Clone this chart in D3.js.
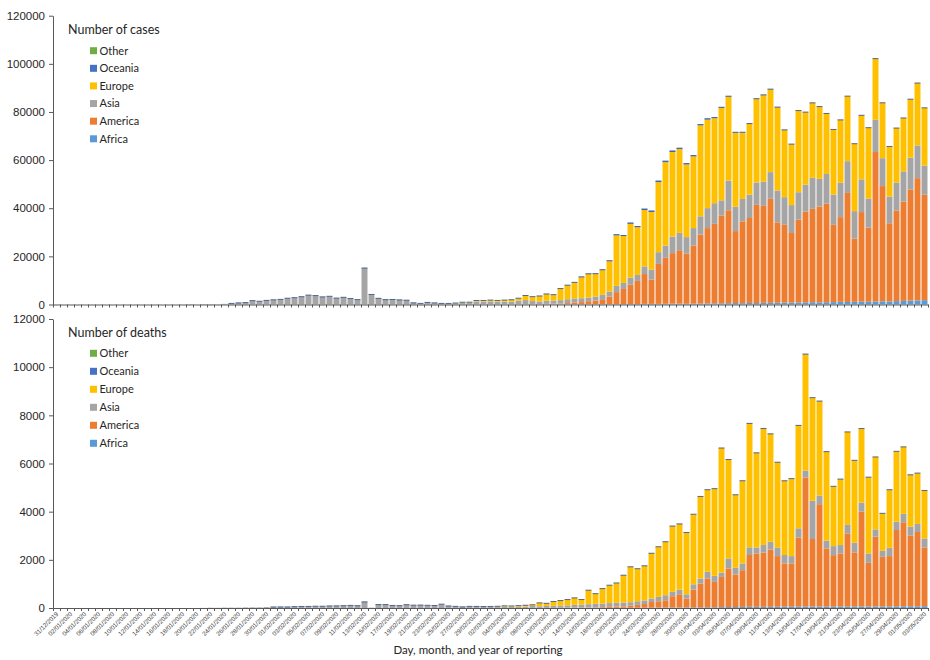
<!DOCTYPE html>
<html>
<head>
<meta charset="utf-8">
<script src="https://cdn.jsdelivr.net/npm/d3@7/dist/d3.min.js"></script>
<style>
  html, body { margin: 0; padding: 0; background: #fff; }
  svg { display: block; font-family: Lato, "Open Sans", sans-serif; }
</style>
</head>
<body>
<svg id="chart" width="930" height="660"></svg>
<script>
// Reporting days: 31/12/2019 to 03/05/2020 (one bar per day)
const firstDay = new Date(Date.UTC(2019, 11, 31));
const lastDay = new Date(Date.UTC(2020, 4, 3));
const days = d3.utcDay.range(firstDay, d3.utcDay.offset(lastDay, 1)).map(d3.utcFormat("%d/%m/%Y"));

// Stack order, bottom to top
const regions = ["Africa", "America", "Asia", "Europe", "Oceania", "Other"];
const regionColors = ["#5B9BD5", "#ED7D31", "#A5A5A5", "#FFC000", "#4472C4", "#70AD47"];

const casesTicks = [0, 20000, 40000, 60000, 80000, 100000, 120000];
const deathsTicks = [0, 2000, 4000, 6000, 8000, 10000, 12000];

// ---- Daily number of cases ----
const casesAfrica = [
  0,0,0,0,0,0,0,0,0,0, 0,0,0,0,0,0,0,0,0,0, 0,0,0,0,0,0,0,0,0,0, 0,0,0,0,0,0,0,0,0,0,
  0,0,0,0,0,1,0,0,0,0, 0,0,0,0,0,0,0,0,0,1, 0,1,1,2,3,5,10,12,8,20,
  30,25,30,45,50,60,80,100,100,120, 150,160,180,200,250,250,250,300,350,350,
  300,350,450,450,500,500,550,600,550,650, 600,700,700,750,800,800,850,900,950,900,
  950,1000,1100,1050,1100,1200,1150,1250,1300,1250, 1400,1500,1600,1700,1800];
const casesAmerica = [
  0,0,0,0,0,0,0,0,0,0, 0,0,0,0,0,0,0,0,0,0, 0,1,0,0,1,1,3,0,0,0, 0,1,1,1,3,0,0,0,0,1,
  0,0,1,0,1,0,0,0,0,0, 0,0,1,0,0,0,14,1,1,1, 15,20,25,30,30,60,90,120,130,160,
  230,330,380,550,800,950,1300,1500,1800,3200, 5000,6300,8050,9600,12400,10100,16600,19100,21000,22200,
  20800,24100,28600,31300,33000,36400,38600,29900,34000,35300, 40800,40300,43200,33400,32300,28900,34400,37700,38800,39800,
  41000,32100,35200,45300,26300,37200,30800,62100,47900,32500, 37700,41300,46200,50800,43800];
const casesAsia = [
  27,0,0,17,0,15,0,0,0,0, 0,0,0,1,0,0,1,4,17,136, 20,152,142,98,262,445,675,790,1600,1350,
  1700,1950,2110,2600,2840,3250,3900,3710,3160,3400, 2670,2990,2490,2030,15150,4170,2560,2030,2080,1910,
  1790,700,450,850,600,380,330,480,720,740, 1250,1200,1250,1100,1150,1100,1500,1700,1300,1100,
  1300,1300,1400,1600,1700,1600,1500,1700,2100,2100, 2600,2500,3000,2500,3200,4200,4900,5100,6900,7200,
  6900,7300,7600,8300,8600,6400,12300,10100,9300,9700, 9300,10100,11100,13200,11500,11600,11400,11200,12900,11500,
  12300,12600,14300,13200,11400,13600,12100,13400,11600,11100, 11600,12500,13200,13600,12100];
const casesEurope = [
  0,0,0,0,0,0,0,0,0,0, 0,0,0,0,0,0,0,0,0,0, 0,0,0,0,3,0,0,1,4,0, 2,5,3,2,0,1,0,1,3,4,
  1,0,9,1,1,0,2,0,1,0, 0,0,4,17,60,70,100,130,230,220, 400,450,550,550,650,800,1000,1900,1800,2250,
  2800,2400,4800,5800,6600,8800,9800,9400,10300,12600, 21000,19500,22300,19800,23400,23900,29100,34600,35100,34800,
  30200,29800,37800,36800,35300,38400,34900,30800,27600,29400, 34700,35900,34400,34600,27900,25300,33900,30100,31100,30000,
  25100,27000,26100,27000,28000,26600,29400,25400,23000,20800, 22600,22200,24300,25900,24000];
const casesOceania = [
  0,0,0,0,0,0,0,0,0,0, 0,0,0,0,0,0,0,0,0,0, 0,0,0,0,0,3,1,1,0,2, 2,0,3,1,0,1,0,0,0,0,
  0,0,0,0,0,0,0,0,0,0, 0,0,0,0,0,0,0,0,0,0, 0,2,3,4,10,10,5,5,15,15,
  20,30,25,40,50,70,90,120,140,160, 260,200,350,300,420,420,450,480,450,400,
  350,330,300,320,280,250,200,150,130,120, 110,100,90,80,60,50,45,40,40,35,
  30,25,20,20,15,20,15,15,15,10, 12,10,15,20,15];
const casesOther = [
  0,0,0,0,0,0,0,0,0,0, 0,0,0,0,0,0,0,0,0,0, 0,0,0,0,0,0,0,0,0,0, 0,0,0,0,0,0,0,10,41,3,
  6,65,0,39,44,0,67,70,99,88, 79,13,0,0,57,0,0,14,0,0, 0,0,0,0,0,0,0,0,0,0,
  0,0,0,0,0,0,0,0,0,0, 0,0,0,0,0,0,0,0,0,0, 0,0,0,0,0,0,0,0,0,0,
  0,0,0,0,0,0,0,0,0,0, 0,0,0,0,0,0,0,0,0,0, 0,0,0,0,0];

// ---- Daily number of deaths ----
const deathsAfrica = [
  0,0,0,0,0,0,0,0,0,0, 0,0,0,0,0,0,0,0,0,0, 0,0,0,0,0,0,0,0,0,0, 0,0,0,0,0,0,0,0,0,0,
  0,0,0,0,0,0,0,0,0,0, 0,0,0,0,0,0,0,0,0,0, 0,0,0,0,0,0,0,0,1,0,
  1,1,2,1,3,4,3,5,6,5, 5,10,10,10,15,15,20,20,20,20,
  25,25,25,30,30,35,40,40,45,50, 50,50,50,55,55,55,60,60,60,60,
  60,60,60,60,60,60,60,60,60,60, 65,70,70,70,75];
const deathsAmerica = [
  0,0,0,0,0,0,0,0,0,0, 0,0,0,0,0,0,0,0,0,0, 0,0,0,0,0,0,0,0,0,0, 0,0,0,0,0,0,0,0,0,0,
  0,0,0,0,0,0,0,0,0,0, 0,0,0,0,0,0,0,0,0,0, 1,1,1,4,2,3,2,4,3,3,
  4,5,8,10,12,13,15,20,30,40, 50,60,90,120,150,235,260,300,470,550,
  365,740,990,1195,1055,1255,1600,1350,1525,2150, 2215,2245,2380,2100,1795,1795,2860,5360,2805,4250,
  2415,2135,2205,3040,2250,3940,1815,2900,2065,2095, 3175,3490,2930,3085,2440];
const deathsAsia = [
  0,0,0,0,0,0,0,0,0,0, 0,1,0,0,0,0,0,1,0,0, 0,3,11,8,16,15,15,24,26,26,
  38,43,46,45,57,64,66,73,73,86, 89,97,108,97,254,13,143,142,106,98,
  138,117,121,111,103,156,82,65,46,62, 61,52,56,48,58,52,52,55,80,70,
  80,85,95,100,115,125,140,150,150,160, 160,160,140,150,150,140,180,210,180,195,
  180,220,210,280,250,180,420,280,280,320, 250,320,320,360,350,305,390,290,1585,360,
  320,375,350,350,400,375,390,305,250,345, 345,350,375,335,375];
const deathsEurope = [
  0,0,0,0,0,0,0,0,0,0, 0,0,0,0,0,0,0,0,0,0, 0,0,0,0,0,0,0,0,0,0, 0,0,0,0,0,0,0,0,0,0,
  0,0,0,0,0,1,0,0,0,0, 0,0,1,1,1,3,4,3,2,5, 4,8,6,20,30,30,45,55,50,140,
  110,180,205,240,290,210,580,420,620,740, 825,1130,1470,1350,1435,1880,2080,2220,2730,2725,
  2560,2905,3405,3405,3615,5170,4100,3030,3430,5140, 3925,4835,4480,3535,3080,3215,4270,4830,4280,3920,
  3695,2480,2735,3860,3420,3075,3165,3005,1555,2410, 2920,2780,2155,2110,1990];
const deathsOceania = [
  0,0,0,0,0,0,0,0,0,0, 0,0,0,0,0,0,0,0,0,0, 0,0,0,0,0,0,0,0,0,0, 0,0,0,0,0,0,0,0,0,0,
  0,0,0,0,0,0,0,0,0,0, 0,0,0,0,0,0,0,0,0,0, 0,0,1,0,0,0,0,0,0,0,
  0,0,0,0,0,0,1,0,0,1, 0,1,1,1,2,3,3,2,3,2,
  4,3,2,2,5,4,5,3,4,5, 3,4,2,3,3,2,2,4,3,2,
  3,2,3,1,2,1,2,2,1,1, 1,0,1,1,0];
const deathsOther = [
  0,0,0,0,0,0,0,0,0,0, 0,0,0,0,0,0,0,0,0,0, 0,0,0,0,0,0,0,0,0,0, 0,0,0,0,0,0,0,0,0,0,
  0,0,0,0,0,0,0,0,0,0, 0,2,0,0,1,0,0,1,0,0, 2,0,0,0,0,0,0,1,0,0,
  0,0,0,0,0,0,0,0,0,0, 0,0,0,0,0,0,0,0,0,0, 0,0,0,0,0,0,0,0,0,0,
  0,0,0,0,0,0,0,0,0,0, 0,0,0,0,0,0,0,0,0,0, 0,0,0,0,0];

const xTitle = "Day, month, and year of reporting";

// ---- Drawing ----
const svg = d3.select("#chart");
const plotLeft = 53, plotRight = 928;
const axisColor = "#595959";
const textColor = "#262626";

const x = d3.scaleBand().domain(days).range([plotLeft, plotRight])
  .paddingInner(0.15).paddingOuter(0.075);
const xEdge = d3.scaleLinear().domain([0, days.length]).range([plotLeft, plotRight]);

const panels = [
  { title: "Number of cases", ticks: casesTicks, yBase: 304.5, yTop: 15.7,
    series: [casesAfrica, casesAmerica, casesAsia, casesEurope, casesOceania, casesOther],
    titleY: 33.5, legendY: 50.7, legendStep: 17.62, labels: false },
  { title: "Number of deaths", ticks: deathsTicks, yBase: 608, yTop: 319,
    series: [deathsAfrica, deathsAmerica, deathsAsia, deathsEurope, deathsOceania, deathsOther],
    titleY: 337, legendY: 353.3, legendStep: 18, labels: true }
];

panels.forEach(p => {
  const rows = days.map((day, i) => {
    const r = { day };
    regions.forEach((k, j) => { r[k] = p.series[j][i]; });
    return r;
  });
  const stacked = d3.stack().keys(regions)(rows);
  const y = d3.scaleLinear().domain([0, p.ticks[p.ticks.length - 1]]).range([p.yBase, p.yTop]);

  const g = svg.append("g");

  // stacked bars
  g.selectAll("g.layer").data(stacked).join("g")
    .attr("class", "layer")
    .attr("fill", (d, i) => regionColors[i])
    .selectAll("rect").data(d => d).join("rect")
      .attr("x", d => x(d.data.day))
      .attr("width", x.bandwidth())
      .attr("y", d => y(d[1]))
      .attr("height", d => Math.max(0, y(d[0]) - y(d[1])));

  // Oceania series outline: thin edge on top of each column
  const oceania = stacked[regions.indexOf("Oceania")];
  g.append("path")
    .attr("fill", "none")
    .attr("stroke", "#3f5a8a")
    .attr("stroke-width", 0.9)
    .attr("d", oceania.filter(d => d.data && y(d[1]) < p.yBase - 1).map(d => {
      const yy = y(d[1]);
      return `M${x(d.data.day)},${yy}H${x(d.data.day) + x.bandwidth()}`;
    }).join(""));

  // y axis
  const yAxis = g.append("g")
    .attr("transform", `translate(${plotLeft},0)`)
    .call(d3.axisLeft(y).tickValues(p.ticks).tickFormat(d3.format("d")).tickSize(4).tickSizeOuter(0).tickPadding(4));
  yAxis.select(".domain").attr("stroke", axisColor);
  yAxis.selectAll(".tick line").attr("stroke", axisColor);
  yAxis.selectAll(".tick text").attr("fill", textColor).attr("font-size", 11.5);

  // x axis: baseline with a tick between every day
  const xAxis = g.append("g")
    .attr("transform", `translate(0,${p.yBase})`)
    .call(d3.axisBottom(xEdge).tickValues(d3.range(0, days.length + 1)).tickFormat("").tickSize(3).tickSizeOuter(0));
  xAxis.select(".domain").attr("stroke", axisColor);
  xAxis.selectAll(".tick line").attr("stroke", axisColor);

  if (p.labels) {
    const lab = g.append("g")
      .attr("transform", `translate(0,${p.yBase})`)
      .call(d3.axisBottom(x).tickValues(days.filter((d, i) => i % 2 === 0)).tickSize(0).tickSizeOuter(0));
    lab.select(".domain").remove();
    lab.selectAll(".tick text")
      .attr("font-size", 6.2)
      .attr("fill", "#404040")
      .attr("text-anchor", "end")
      .attr("x", -3).attr("y", 4).attr("dy", "0.35em")
      .attr("transform", "rotate(-45)");
  }

  // legend
  const lg = g.append("g");
  lg.append("text")
    .attr("x", 68).attr("y", p.titleY)
    .attr("font-size", 12.5).attr("fill", textColor)
    .text(p.title);
  const order = regions.slice().reverse();
  order.forEach((name, k) => {
    const cy = p.legendY + k * p.legendStep;
    lg.append("rect")
      .attr("x", 90).attr("y", cy - 3.5).attr("width", 7).attr("height", 7)
      .attr("fill", regionColors[regions.indexOf(name)]);
    lg.append("text")
      .attr("x", 99.5).attr("y", cy).attr("dy", "0.35em")
      .attr("font-size", 11).attr("fill", textColor)
      .text(name);
  });
});

svg.append("text")
  .attr("x", 478).attr("y", 654)
  .attr("text-anchor", "middle")
  .attr("font-size", 11.5).attr("fill", textColor)
  .text(xTitle);
</script>
</body>
</html>
